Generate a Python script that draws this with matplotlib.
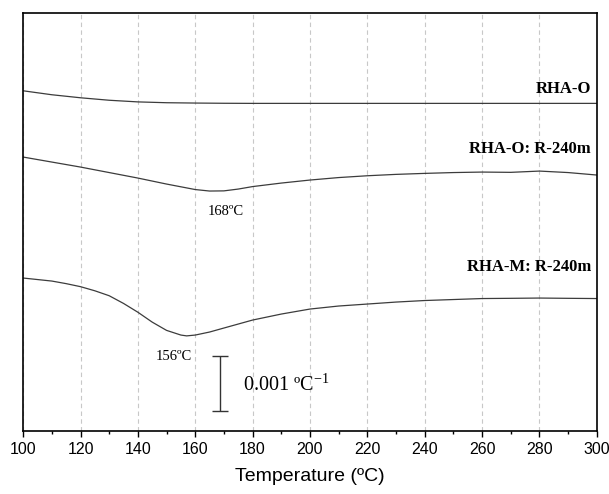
import numpy as np
import matplotlib
matplotlib.use("Agg")
import matplotlib.pyplot as plt
from matplotlib.ticker import MultipleLocator

# temperatures (ºC) and curves, y in units of 0.001 ºC^-1 (arbitrary offset)
t_o = [100, 110, 120, 130, 140, 150, 160, 170, 180, 200, 220, 240, 260, 280, 300]
y_o = [6.187, 6.115, 6.060, 6.015, 5.985, 5.970, 5.964, 5.960, 5.958, 5.958,
       5.958, 5.958, 5.958, 5.958, 5.958]

t_or = [100, 110, 120, 130, 140, 150, 160, 165, 170, 175, 180, 190, 200, 210,
        220, 230, 240, 250, 260, 270, 280, 290, 300]
y_or = [4.982, 4.891, 4.800, 4.700, 4.600, 4.491, 4.391, 4.364, 4.367, 4.400,
        4.445, 4.509, 4.564, 4.609, 4.642, 4.667, 4.685, 4.700, 4.709, 4.704,
        4.727, 4.700, 4.655]

t_mr = [100, 110, 115, 120, 125, 130, 135, 140, 145, 150, 155, 157, 160, 165,
        170, 180, 190, 200, 210, 220, 230, 240, 250, 260, 270, 280, 290, 300]
y_mr = [2.782, 2.727, 2.680, 2.625, 2.550, 2.460, 2.320, 2.160, 1.980, 1.830,
        1.745, 1.730, 1.745, 1.800, 1.873, 2.018, 2.127, 2.218, 2.273, 2.309,
        2.345, 2.373, 2.391, 2.409, 2.413, 2.418, 2.413, 2.409]

labels = ["RHA-O", "RHA-O: R-240m", "RHA-M: R-240m"]
label_y = [6.218, 5.127, 2.982]

fig = plt.figure(figsize=(6.09, 4.94), dpi=100)
ax = fig.add_axes([0.038, 0.1275, 0.942, 0.846])

line_col = "#3c3c3c"
for t, y in [(t_o, y_o), (t_or, y_or), (t_mr, y_mr)]:
    ax.plot(t, y, color=line_col, lw=0.9)

for lab, ly in zip(labels, label_y):
    ax.text(298, ly, lab, ha="right", va="center", fontsize=12,
            fontweight="bold", family="Liberation Serif")

# peak annotations
ax.text(170.6, 4.0, "168ºC", ha="center", va="center", fontsize=10.5,
        family="Liberation Serif")
ax.text(152.4, 1.364, "156ºC", ha="center", va="center", fontsize=10.5,
        family="Liberation Serif")

# scale bar
ax.errorbar([168.5], [0.864], yerr=[0.5], color="#333333", lw=1.0,
            capsize=6, capthick=1.0)
ax.text(176.5, 0.836, "0.001 ºC$^{\\mathregular{-1}}$", ha="left", va="center",
        fontsize=14.5, family="Liberation Serif")

ax.set_xlim(100, 300)
ax.set_ylim(0, 7.6)
ax.xaxis.set_major_locator(MultipleLocator(20))
ax.xaxis.set_minor_locator(MultipleLocator(10))
ax.set_yticks([])
ax.grid(axis="x", color="#c8c8c8", ls=(0, (4, 3)), lw=0.8)
ax.tick_params(axis="x", which="major", direction="out", length=4, width=1,
               labelsize=11.5, pad=4)
ax.tick_params(axis="x", which="minor", direction="out", length=2.5, width=1)
for lab in ax.get_xticklabels():
    lab.set_family("Liberation Sans")
for s in ax.spines.values():
    s.set_linewidth(1.2)
ax.set_xlabel("Temperature (ºC)", fontsize=14, family="Liberation Sans",
              labelpad=8)

fig.savefig("out.png", dpi=100)
